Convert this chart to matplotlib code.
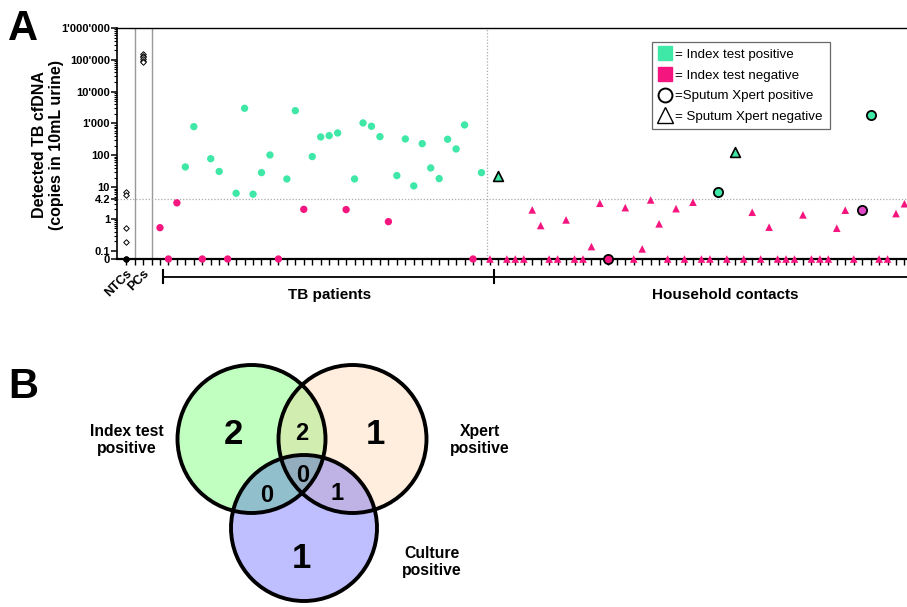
import numpy as np
import matplotlib
matplotlib.use("Agg")
import matplotlib.pyplot as plt
from matplotlib.lines import Line2D
from matplotlib.patches import Circle

plt.rcParams['font.family'] = ['Liberation Sans', 'DejaVu Sans']

# ---- data, panel A ----
cutoff = 4.2
ntc_values = [7.0, 5.7, 0.51, 0.19, 0, 0]
pc_values = [150000, 135000, 120000, 105000, 95000, 85000]

tb_values = [0.53, 0, 3.2, 43, 794, 0, 78, 31, 0, 6.4,
             3000, 6.0, 28.5, 102, 0, 18, 2525, 2.0, 91, 377,
             414, 503, 1.96, 18, 1038, 817, 385, 0.82, 23, 326,
             10.9, 232, 40, 18.5, 319, 158, 898, 0, 28.5]

# household contacts, nan = no result
hh_values = [0, 23, 0, 0, 0, 1.92, 0.62, 0, 0, 0.93,
             0, 0, 0.135, 3.1, 0, np.nan, 2.26, 0, 0.114, 3.95,
             0.70, 0, 2.1, 0, 3.35, 0, 0, 7.05, 0, 127,
             0, 1.62, 0, 0.55, 0, 0, 0, 1.34, 0, 0,
             0, 0.51, 1.88, 0, 1.96, 1850, 0, 0, 1.47, 3.0]
hh_xpert_pos = [14, 27, 44, 45]   # positions in hh_values with positive sputum Xpert
hh_special = [44]                 # drawn in violet

yticks = [0, 0.1, 1, 4.2, 10, 100, 1e3, 1e4, 1e5, 1e6]
ytick_labels = ["0", "0.1", "1", "4.2", "10", "100", "1'000", "10'000", "100'000", "1'000'000"]

# ---- data, panel B ----
venn_counts = {'index': 2, 'xpert': 1, 'culture': 1, 'index_xpert': 2,
               'index_culture': 0, 'xpert_culture': 1, 'all': 0}

green = '#3FE8A6'
pink = '#F5157E'
violet = '#E048C8'


def fwd(v):
    v = np.asarray(v, dtype=float)
    with np.errstate(divide='ignore', invalid='ignore'):
        out = np.where(v < 0.1, -1.26 + v / 0.1 * 0.26, np.log10(np.maximum(v, 1e-12)))
    return out


def inv(t):
    t = np.asarray(t, dtype=float)
    return np.where(t < -1, (t + 1.26) / 0.26 * 0.1, 10 ** np.clip(t, -1, 12))


fig = plt.figure(figsize=(9.07, 6.07), dpi=100)
W, H = 907, 607
ax = fig.add_axes([117 / W, 1 - 259 / H, 1 - 117 / W, (259 - 28) / H])
ax.set_yscale('function', functions=(fwd, inv))
ax.set_ylim(0, 1e6)
ax.set_xlim(-5.08, 88.3)

# separators and cutoff
ax.axvline(-3, color='#999999', lw=1)
ax.axvline(-1, color='#999999', lw=1)
ax.axvline(38.7, color='#aaaaaa', lw=0.9, ls=(0, (1, 1.5)))
ax.axhline(cutoff, color='#aaaaaa', lw=0.9, ls=(0, (1, 1.5)))

# controls
ntc = np.array(ntc_values)
ax.scatter(np.full(4, -4), ntc[:4], marker='D', s=8, facecolor='white',
           edgecolor='black', lw=0.7, zorder=4, clip_on=False)
ax.scatter(np.full(2, -4), ntc[4:], marker='o', s=12, color='black', zorder=4, clip_on=False)
ax.scatter(np.full(len(pc_values), -2), pc_values, marker='D', s=8, facecolor='white',
           edgecolor='black', lw=0.7, zorder=4, clip_on=False)

# TB patients
tb = np.array(tb_values)
tb_x = np.arange(len(tb))
tb_col = np.where(tb > cutoff, green, pink)
ax.scatter(tb_x, tb, s=28, c=tb_col, edgecolor='none', zorder=5, clip_on=False)

# household contacts
hh = np.array(hh_values)
hh_x = np.arange(len(hh)) + len(tb)
for i, v in enumerate(hh):
    if np.isnan(v):
        continue
    col = green if v > cutoff else pink
    if i in hh_special:
        col = violet
    if i in hh_xpert_pos:
        ax.scatter(hh_x[i], v, marker='o', s=44, color=col, edgecolor='black',
                   lw=1.3, zorder=6, clip_on=False)
    elif v > cutoff:
        ax.scatter(hh_x[i], v, marker='^', s=50, color=col, edgecolor='black',
                   lw=1.2, zorder=6, clip_on=False)
    else:
        ax.scatter(hh_x[i], v, marker='^', s=30, color=col, edgecolor='none',
                   zorder=6, clip_on=False)

# axes styling
ax.spines['right'].set_visible(False)
ax.spines['top'].set_linewidth(1.0)
ax.spines['left'].set_linewidth(1.2)
ax.spines['bottom'].set_linewidth(1.6)

ax.set_yticks(yticks)
ax.set_yticklabels(ytick_labels, fontsize=8, fontweight='bold')
minor = []
for dec in [0.1, 1, 10, 100, 1e3, 1e4, 1e5]:
    minor += [dec * k for k in range(2, 10)]
ax.set_yticks(minor, minor=True)
ax.tick_params(axis='y', which='major', length=4, width=1.1, pad=1)
ax.tick_params(axis='y', which='minor', length=2, width=0.8)

all_x = np.arange(-4, 89)
ax.set_xticks(all_x)
xlabels = ['' for _ in all_x]
xlabels[0] = 'NTCs'
xlabels[2] = 'PCs'
ax.set_xticklabels(xlabels, rotation=45, ha='right', rotation_mode='anchor',
                   fontsize=9, fontweight='bold')
ax.tick_params(axis='x', length=4, width=1.0, pad=2)

ax.set_ylabel("Detected TB cfDNA\n(copies in 10mL urine)", fontsize=11.5,
              fontweight='bold', linespacing=1.2)
ax.yaxis.set_label_coords(-0.067, 0.494)

# group brackets
tr = ax.get_xaxis_transform()
ax.plot([0.32, 88.3], [-0.076, -0.076], color='black', lw=1.3, transform=tr, clip_on=False)
for cx in [0.32, 39.5]:
    ax.plot([cx, cx], [-0.048, -0.104], color='black', lw=1.5, transform=tr, clip_on=False)
ax.text(20.1, -0.154, 'TB patients', transform=tr, ha='center', va='center',
        fontsize=11, fontweight='bold')
ax.text(66.8, -0.154, 'Household contacts', transform=tr, ha='center', va='center',
        fontsize=11, fontweight='bold')

# legend
handles = [
    Line2D([], [], marker='s', ls='none', color=green, markersize=10),
    Line2D([], [], marker='s', ls='none', color=pink, markersize=10),
    Line2D([], [], marker='o', ls='none', markerfacecolor='white',
           markeredgecolor='black', markeredgewidth=1.4, markersize=10),
    Line2D([], [], marker='^', ls='none', markerfacecolor='white',
           markeredgecolor='black', markeredgewidth=1.0, markersize=11),
]
labels = ['= Index test positive', '= Index test negative',
          '=Sputum Xpert positive', '= Sputum Xpert negative']
leg = ax.legend(handles, labels, loc='upper left', bbox_to_anchor=(652 / W, 1 - 42 / H),
                bbox_transform=fig.transFigure, fontsize=9.6, frameon=True, fancybox=False,
                edgecolor='#444444', handlelength=1.0, handletextpad=0.25,
                labelspacing=0.62, borderpad=0.5, borderaxespad=0)
leg.get_frame().set_linewidth(0.9)

# panel letters
fig.text(8 / W, 1 - 40 / H, 'A', fontsize=30, fontweight='bold', va='baseline')
fig.text(8 / W, 1 - 398 / H, 'B', fontsize=30, fontweight='bold', va='baseline')

# ---- panel B: Venn ----
axv = fig.add_axes([0, 0, 1, (H - 360) / H])
axv.set_xlim(0, W)
axv.set_ylim(H, 360)
axv.axis('off')

circ = {'index': (251.5, 439, 74), 'xpert': (352.5, 439, 74), 'culture': (304, 528, 73)}
yy, xx = np.mgrid[360:607:0.5, 150:450:0.5]
inside = {k: (xx - c[0]) ** 2 + (yy - c[1]) ** 2 <= c[2] ** 2 for k, c in circ.items()}
img = np.zeros(xx.shape + (4,))
fills = [
    (inside['index'] & ~inside['xpert'] & ~inside['culture'], (0.76, 1.0, 0.76)),
    (~inside['index'] & inside['xpert'] & ~inside['culture'], (1.0, 0.93, 0.87)),
    (~inside['index'] & ~inside['xpert'] & inside['culture'], (0.75, 0.75, 1.0)),
    (inside['index'] & inside['xpert'] & ~inside['culture'], (0.82, 0.93, 0.69)),
    (inside['index'] & ~inside['xpert'] & inside['culture'], (0.57, 0.75, 0.80)),
    (~inside['index'] & inside['xpert'] & inside['culture'], (0.75, 0.70, 0.90)),
    (inside['index'] & inside['xpert'] & inside['culture'], (0.58, 0.68, 0.75)),
]
for mask, col in fills:
    img[mask, :3] = col
    img[mask, 3] = 1
axv.imshow(img, extent=(150, 450, 607, 360), origin='upper', interpolation='bilinear', zorder=1)
for k, (cx, cy, r) in circ.items():
    axv.add_patch(Circle((cx, cy), r, fill=False, edgecolor='black', lw=2.8, zorder=3))

big = 25
small = 17
axv.text(233, 434, str(venn_counts['index']), fontsize=big, fontweight='bold', ha='center', va='center', zorder=4)
axv.text(375, 434, str(venn_counts['xpert']), fontsize=big, fontweight='bold', ha='center', va='center', zorder=4)
axv.text(301, 558, str(venn_counts['culture']), fontsize=big, fontweight='bold', ha='center', va='center', zorder=4)
axv.text(302, 433, str(venn_counts['index_xpert']), fontsize=small, fontweight='bold', ha='center', va='center', zorder=4)
axv.text(267, 496, str(venn_counts['index_culture']), fontsize=small, fontweight='bold', ha='center', va='center', zorder=4)
axv.text(337, 494, str(venn_counts['xpert_culture']), fontsize=small, fontweight='bold', ha='center', va='center', zorder=4)
axv.text(303, 476, str(venn_counts['all']), fontsize=small, fontweight='bold', ha='center', va='center', zorder=4)

axv.text(127, 440, 'Index test\npositive', fontsize=11.3, fontweight='bold', ha='center', va='center', linespacing=1.2)
axv.text(480, 440, 'Xpert\npositive', fontsize=11.3, fontweight='bold', ha='center', va='center', linespacing=1.2)
axv.text(432, 562, 'Culture\npositive', fontsize=11.3, fontweight='bold', ha='center', va='center', linespacing=1.2)

fig.savefig('out.png', dpi=100)
